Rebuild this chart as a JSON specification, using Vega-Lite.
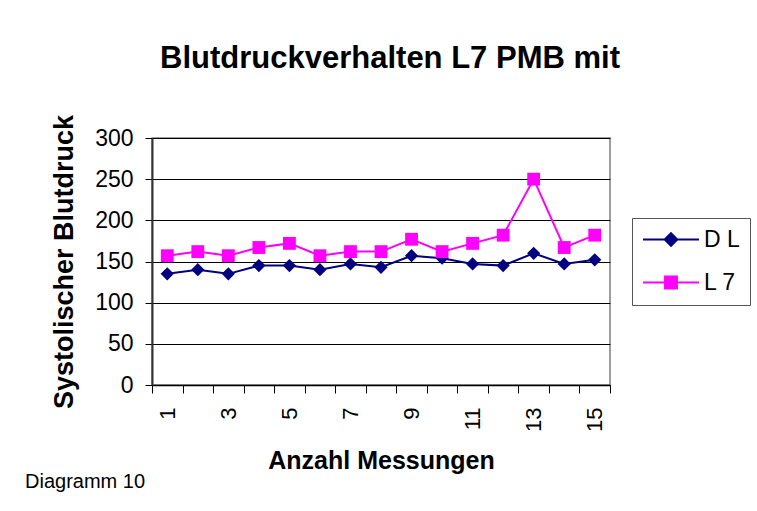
{
  "$schema": "https://vega.github.io/schema/vega-lite/v6.json",
  "background": "white",
  "autosize": {"type": "none"},
  "bounds": "flush",
  "padding": {"left": 152, "top": 138, "right": 147, "bottom": 373},
  "title": {
    "text": "Diagramm 10",
    "orient": "bottom",
    "anchor": "start",
    "frame": "group",
    "font": "Liberation Sans",
    "fontSize": 20,
    "fontWeight": "normal",
    "color": "black",
    "dx": -127,
    "offset": -2
  },
  "vconcat": [
    {
      "title": {
        "text": "Blutdruckverhalten L7 PMB mit",
        "font": "Liberation Sans",
        "fontSize": 31,
        "fontWeight": "bold",
        "color": "black",
        "anchor": "middle",
        "frame": "group",
        "offset": 39,
        "dx": 9
      },
      "width": 458,
      "height": 247,
      "data": {
        "values": [
          {"Messung": 1, "Serie": "D L", "Wert": 135},
          {"Messung": 2, "Serie": "D L", "Wert": 140},
          {"Messung": 3, "Serie": "D L", "Wert": 135},
          {"Messung": 4, "Serie": "D L", "Wert": 145},
          {"Messung": 5, "Serie": "D L", "Wert": 145},
          {"Messung": 6, "Serie": "D L", "Wert": 140},
          {"Messung": 7, "Serie": "D L", "Wert": 147},
          {"Messung": 8, "Serie": "D L", "Wert": 143},
          {"Messung": 9, "Serie": "D L", "Wert": 157},
          {"Messung": 10, "Serie": "D L", "Wert": 154},
          {"Messung": 11, "Serie": "D L", "Wert": 147},
          {"Messung": 12, "Serie": "D L", "Wert": 145},
          {"Messung": 13, "Serie": "D L", "Wert": 160},
          {"Messung": 14, "Serie": "D L", "Wert": 147},
          {"Messung": 15, "Serie": "D L", "Wert": 152},
          {"Messung": 1, "Serie": "L 7", "Wert": 157},
          {"Messung": 2, "Serie": "L 7", "Wert": 162},
          {"Messung": 3, "Serie": "L 7", "Wert": 157},
          {"Messung": 4, "Serie": "L 7", "Wert": 167},
          {"Messung": 5, "Serie": "L 7", "Wert": 172},
          {"Messung": 6, "Serie": "L 7", "Wert": 157},
          {"Messung": 7, "Serie": "L 7", "Wert": 162},
          {"Messung": 8, "Serie": "L 7", "Wert": 162},
          {"Messung": 9, "Serie": "L 7", "Wert": 177},
          {"Messung": 10, "Serie": "L 7", "Wert": 162},
          {"Messung": 11, "Serie": "L 7", "Wert": 172},
          {"Messung": 12, "Serie": "L 7", "Wert": 182},
          {"Messung": 13, "Serie": "L 7", "Wert": 250},
          {"Messung": 14, "Serie": "L 7", "Wert": 167},
          {"Messung": 15, "Serie": "L 7", "Wert": 182}
        ]
      },
      "encoding": {
        "x": {
          "field": "Messung",
          "type": "ordinal",
          "scale": {"paddingInner": 0, "paddingOuter": 0},
          "axis": {
            "title": "Anzahl Messungen",
            "titleFont": "Liberation Sans",
            "titleFontSize": 25,
            "titleFontWeight": "bold",
            "titleColor": "black",
            "titlePadding": 17,
            "labelAngle": -90,
            "labelFont": "Liberation Sans",
            "labelFontSize": 22,
            "labelColor": "black",
            "labelPadding": 14,
            "labelExpr": "datum.value % 2 == 1 ? datum.label : ''",
            "tickBand": "extent",
            "tickSize": 8,
            "tickColor": "black",
            "domainColor": "black",
            "domainWidth": 1.5,
            "grid": false
          }
        },
        "y": {
          "field": "Wert",
          "type": "quantitative",
          "scale": {"domain": [0, 300], "nice": false},
          "axis": {
            "title": "Systolischer Blutdruck",
            "titleFont": "Liberation Sans",
            "titleFontSize": 27,
            "titleFontWeight": "bold",
            "titleColor": "black",
            "titlePadding": 16,
            "values": [0, 50, 100, 150, 200, 250, 300],
            "labelFont": "Liberation Sans",
            "labelFontSize": 23,
            "labelColor": "black",
            "labelPadding": 12,
            "tickSize": 7,
            "tickColor": "black",
            "domainColor": "#333333",
            "domainWidth": 2,
            "grid": true,
            "gridColor": "black",
            "gridWidth": 1
          }
        },
        "color": {
          "field": "Serie",
          "type": "nominal",
          "scale": {"domain": ["D L", "L 7"], "range": ["#000080", "#FF00FF"]}
        }
      },
      "layer": [
        {
          "mark": {"type": "line", "strokeWidth": 2},
          "encoding": {
            "color": {
              "field": "Serie",
              "type": "nominal",
              "legend": {
                "orient": "none",
                "legendX": 480,
                "legendY": 80,
                "title": null,
                "padding": 10,
                "strokeColor": "#555555",
                "fillColor": "white",
                "labelFont": "Liberation Sans",
                "labelFontSize": 23,
                "labelColor": "black",
                "labelOffset": 39,
                "symbolSize": 196,
                "rowPadding": 19,
                "encode": {
                  "symbols": {
                    "update": {
                      "shape": {"signal": "datum.value === 'D L' ? 'M-1.5,0H6.5M1.6,0L2.5,-0.9L3.4,0L2.5,0.9Z' : 'M-1.5,0H6.5M1.65,-0.85H3.35V0.85H1.65Z'"},
                      "fill": {"scale": "color", "field": "value"},
                      "stroke": {"scale": "color", "field": "value"},
                      "strokeWidth": {"value": 2},
                      "size": {"value": 196},
                      "opacity": {"value": 1}
                    }
                  }
                }
              }
            }
          }
        },
        {
          "transform": [{"filter": "datum.Serie === 'D L'"}],
          "mark": {"type": "point", "filled": true, "opacity": 1, "size": 175, "shape": "diamond"},
          "encoding": {
            "color": {"field": "Serie", "type": "nominal", "legend": null}
          }
        },
        {
          "transform": [{"filter": "datum.Serie === 'L 7'"}],
          "mark": {"type": "point", "filled": true, "opacity": 1, "size": 165, "shape": "square"},
          "encoding": {
            "color": {"field": "Serie", "type": "nominal", "legend": null}
          }
        }
      ]
    }
  ],
  "config": {
    "view": {"stroke": "#808080", "strokeWidth": 1.5}
  }
}
